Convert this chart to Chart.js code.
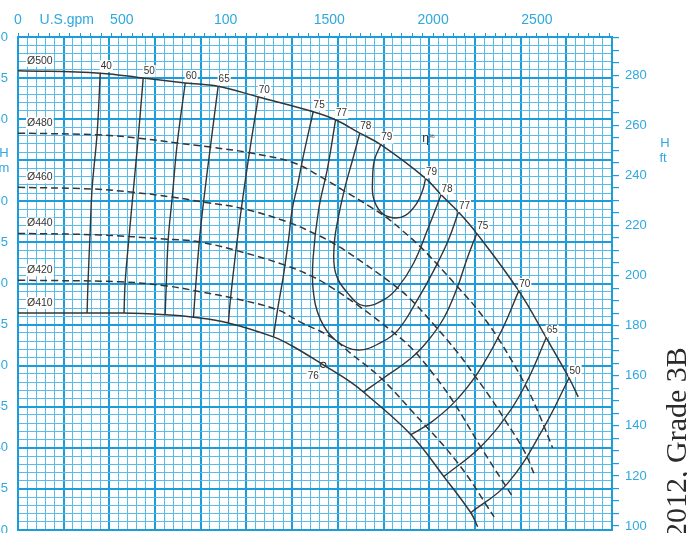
<!DOCTYPE html>
<html lang="en">
<head>
<meta charset="UTF-8">
<title>Pump curve</title>
<script src="https://cdn.jsdelivr.net/npm/chart.js"></script>
<style>
  html, body { margin: 0; padding: 0; background: #fff; overflow: hidden; }
  #wrap { position: relative; width: 687px; height: 533px; overflow: hidden; }
  #pump { position: absolute; left: -30px; top: 0; }
</style>
</head>
<body>
<div id="wrap"><canvas id="pump" width="720" height="560" style="width:720px;height:560px"></canvas></div>
<script>
// Q in m3/h (bottom scale, not in picture), H in m
const qMax = 650, hMin = 30, hMax = 90;
const gpmPerM3h = 4.40287, ftPerM = 3.28084;

// tick labels
const gpmTickValues = [0, 500, 1000, 1500, 2000, 2500];
const gpmTickLabels = ['0', '500', '100', '1500', '2000', '2500']; // "100" as printed
const mTicks = [30, 35, 40, 45, 50, 55, 60, 65, 70, 80, 85, 90]; // 75 hidden by the H/m title
const ftTicks = [100, 120, 140, 160, 180, 200, 220, 240, 260, 280];

// impeller diameter curves [Q, H]
const d500 = [[0,85.9],[90,85.6],[137,85.0],[183,84.4],[219,84.0],[263,82.7],[323,80.9],[348,79.9],[374,78.3],[397,76.9],[446,72.8],[463,70.8],[482,68.7],[502,66.1],[548,59.1],[578,53.4],[603,48.5],[613,46.2]];
const d480 = [[0,78.3],[87,78.1],[131.5,77.7],[174,77.1],[210.5,76.6],[254,75.9],[301.5,74.7],[331,73.0],[355,71.4],[386,69.3],[406,67.8],[421,66.4],[441,64.4],[459,62.3],[481,59.6],[503,56.8],[525,53.4],[554,47.9],[569,44.4],[585,40.0]];
const d460 = [[0,71.7],[82,71.5],[126,71.1],[170,70.5],[203,69.9],[243,69.2],[295,67.5],[320,66.3],[345,64.9],[378,62.5],[415,59.5],[433,57.7],[455,55.0],[481,51.6],[499,48.9],[517,46.1],[534,43.2],[554,39.6],[564.5,36.9]];
const d440 = [[0,66.1],[90,65.9],[163,65.4],[196,65.1],[236,64.1],[290.5,62.3],[323,60.8],[342,59.6],[375,57.1],[408,54.3],[430,52.2],[455,48.9],[477,45.5],[507,40.0],[541.5,34.0]];
const d420 = [[0,60.4],[112,60.2],[163,59.7],[199.5,59.0],[236,58.2],[284,56.8],[309,55.3],[342,53.5],[364,51.5],[397,48.5],[430,44.6],[481,38.2],[521,31.6]];
const d410 = [[0,56.4],[116,56.4],[161,56.2],[192,55.9],[230,55.2],[279.5,53.5],[301.5,52.3],[334,50.1],[364,48.0],[378,46.8],[430,41.6],[466,36.5],[495.5,32.1],[503,30.4]];

// iso-efficiency lines [Q, H]
const e40 = [[90,85.6],[86.6,78.3],[81.1,71.6],[78.9,66.1],[76.7,60.4],[75.6,56.4]];
const e50 = [[137,85.0],[131.5,77.7],[126,71.1],[121.7,65.9],[117.3,60.2],[116,56.4]];
const e60 = [[183,84.4],[174.3,77.1],[168.8,70.5],[164.4,65.4],[162.2,59.7],[161,56.2]];
const e65 = [[219,84.0],[210.5,76.6],[203,69.9],[198.4,65.1],[194,59.0],[192,55.9]];
const e70 = [[263,82.7],[255.4,77.5],[248.8,72.6],[243.4,68.3],[237.9,63.5],[232.4,58.0],[230.2,55.2]];
const e75 = [[323,80.9],[312,75.4],[306,72.0],[300,69.0],[296,65.3],[290.5,61.0],[284,56.8],[279.5,53.5]];
const e77 = [[347.5,79.9],[339,74.2],[329,69.0],[323,63.2],[323,59.2],[331,55.6],[347.5,53.1],[372,51.9],[397,52.8],[415.5,54.3],[437,58.0],[455,61.6],[471,65.3],[482,68.7]];
const e78 = [[374,78.3],[366,75.0],[358.5,72.0],[351,68.3],[346,64.7],[347.5,61.3],[361,58.8],[378,57.3],[400,58.0],[415.5,59.5],[433,62.5],[448,66.5],[463,70.8]];
const e79 = [[397,76.9],[390,75.0],[388,72.6],[389,70.4],[397,68.7],[410,68.0],[424,68.3],[436,69.7],[443,71.4],[446,72.8]];
const e75r = [[502,66.1],[491,62.9],[481,59.6],[466,55.8],[449,53.1],[430,50.9],[400,48.5],[378,46.8]];
const e70r = [[548,59.1],[528,54.0],[503,49.1],[477,45.5],[452,43.1],[430,41.6]];
const e65r = [[578,53.4],[558,48.3],[539,44.6],[506,40.1],[466,36.5]];
const e50r = [[603,48.5],[575.5,42.5],[536,35.7],[495.5,32.1]];

// best point on the 410 curve
const bep410 = [[334, 50.1]];
const bep410Label = '76';

const diameters = [
  { name: 'Ø500', pts: d500, dashed: false },
  { name: 'Ø480', pts: d480, dashed: true },
  { name: 'Ø460', pts: d460, dashed: true },
  { name: 'Ø440', pts: d440, dashed: true },
  { name: 'Ø420', pts: d420, dashed: true },
  { name: 'Ø410', pts: d410, dashed: false }
];
const effLines = [
  { eta: '40', pts: e40 }, { eta: '50', pts: e50 }, { eta: '60', pts: e60 },
  { eta: '65', pts: e65 }, { eta: '70', pts: e70 }, { eta: '75', pts: e75 },
  { eta: '77', pts: e77, both: true }, { eta: '78', pts: e78, both: true },
  { eta: '79', pts: e79, both: true },
  { eta: '75', pts: e75r }, { eta: '70', pts: e70r }, { eta: '65', pts: e65r },
  { eta: '50', pts: e50r }
];

const gridMajor = '#1c9cd8';
const gridMinor = '#58bce9';
const axisText = '#2ea8df';
const ink = '#353535';
const sans = '"Liberation Sans", Arial, sans-serif';

Chart.defaults.font.family = sans;

const toXY = pts => pts.map(p => ({ x: p[0], y: p[1] }));

const datasets = [];
diameters.forEach(d => datasets.push({
  data: toXY(d.pts), borderColor: ink, borderWidth: d.dashed ? 1.5 : 1.5,
  borderDash: d.dashed ? [7, 4] : [], pointRadius: 0, tension: 0.4, fill: false
}));
effLines.forEach(e => datasets.push({
  data: toXY(e.pts), borderColor: ink, borderWidth: 1.4,
  pointRadius: 0, tension: 0.4, fill: false
}));
datasets.push({
  data: toXY(bep410), showLine: false, pointRadius: 2.6, pointStyle: 'circle',
  pointBackgroundColor: '#fff', pointBorderColor: ink, pointBorderWidth: 1.1
});

const gridColor = c => (c.tick && c.tick.value % 5 === 0) ? gridMajor : gridMinor;
const gridColorQ = c => (c.tick && c.tick.value % 50 === 0) ? gridMajor : gridMinor;
const gridWidth = c => (c.tick && c.tick.value % 5 === 0) ? 2 : 1;
const gridWidthQ = c => (c.tick && c.tick.value % 50 === 0) ? 2 : 1;

const annot = {
  id: 'annot',
  afterDatasetsDraw(chart) {
    const { ctx, chartArea: a, scales } = chart;
    const sx = scales.x, sy = scales.y;
    const px = p => [sx.getPixelForValue(p[0]), sy.getPixelForValue(p[1])];
    ctx.save();
    ctx.textBaseline = 'middle';

    function tag(text, cx, cy, align) {
      const w = ctx.measureText(text).width;
      const left = align === 'left' ? cx : cx - w / 2;
      ctx.fillStyle = '#fff';
      ctx.fillRect(left - 1, cy - 6, w + 2, 12);
      ctx.fillStyle = '#333';
      ctx.textAlign = 'left';
      ctx.fillText(text, left, cy);
    }

    ctx.font = '10.5px ' + sans;
    diameters.forEach(d => {
      const p = px(d.pts[0]);
      tag(d.name, a.left + 9, p[1] - 10, 'left');
    });
    ctx.font = '10px ' + sans;
    effLines.forEach(e => {
      const p = px(e.pts[0]);
      tag(e.eta, p[0] + 6, p[1] - 7);
      if (e.both) {
        const q = px(e.pts[e.pts.length - 1]);
        tag(e.eta, q[0] + 6, q[1] - 6);
      }
    });
    const b = px(bep410[0]);
    tag(bep410Label, b[0] - 10, b[1] + 11);

    // eta % note
    const n = px([449, 77.7]);
    ctx.fillStyle = '#333';
    ctx.font = '12px ' + sans;
    ctx.textAlign = 'left';
    ctx.fillText('η', n[0] - 6, n[1] + 1);
    ctx.font = '6px ' + sans;
    ctx.fillText('%', n[0] + 1, n[1] - 2);
    ctx.restore();
  },
  afterDraw(chart) {
    const { ctx, chartArea: a, scales } = chart;
    ctx.save();
    ctx.fillStyle = axisText;
    ctx.textAlign = 'center';
    ctx.textBaseline = 'middle';
    ctx.font = '14px ' + sans;
    ctx.fillText('U.S.gpm', scales.x2.getPixelForValue(235), 20);
    ctx.font = '13px ' + sans;
    ctx.fillText('H', a.left - 14, a.top + 116);
    ctx.fillText('m', a.left - 14, a.top + 131);
    ctx.fillText('H', a.right + 53, a.top + 106);
    ctx.fillText('ft', a.right + 51, a.top + 121);

    ctx.translate(a.right + 74, a.bottom + 8);
    ctx.rotate(-Math.PI / 2);
    ctx.fillStyle = '#2a2a2a';
    ctx.textAlign = 'left';
    ctx.textBaseline = 'alphabetic';
    ctx.font = '30px "Liberation Serif", "Times New Roman", serif';
    ctx.fillText('2012, Grade 3B', 0, 0);
    ctx.restore();
  }
};

new Chart(document.getElementById('pump'), {
  type: 'line',
  data: { datasets },
  options: {
    responsive: false,
    animation: false,
    layout: { padding: 0 },
    plugins: { legend: { display: false }, tooltip: { enabled: false } },
    scales: {
      x: {
        type: 'linear', position: 'bottom', min: 0, max: qMax,
        ticks: { display: false, stepSize: 10, autoSkip: false, includeBounds: false },
        grid: { color: gridColorQ, lineWidth: gridWidthQ, drawTicks: false },
        border: { color: gridMajor, width: 2 },
        afterFit: s => { s.height = 30; }
      },
      x2: {
        type: 'linear', position: 'top', min: 0, max: qMax * gpmPerM3h,
        ticks: {
          stepSize: 50, autoSkip: false, includeBounds: false, maxRotation: 0, minRotation: 0,
          padding: 4, color: axisText, font: { size: 14 },
          callback: v => {
            const i = gpmTickValues.indexOf(v);
            return i >= 0 ? gpmTickLabels[i] : '';
          }
        },
        grid: { drawOnChartArea: false, tickLength: 4, color: gridMajor, lineWidth: 1 },
        border: { color: gridMajor, width: 2 },
        afterFit: s => { s.height = 37; }
      },
      y: {
        type: 'linear', position: 'left', min: hMin, max: hMax,
        ticks: {
          stepSize: 1, autoSkip: false, includeBounds: false, padding: 10,
          color: axisText, font: { size: 13 },
          callback: v => mTicks.includes(v) ? String(v) : ''
        },
        grid: { color: gridColor, lineWidth: gridWidth, drawTicks: false },
        border: { color: gridMajor, width: 2 },
        afterFit: s => { s.width = 48; }
      },
      y2: {
        type: 'linear', position: 'right', min: hMin * ftPerM, max: hMax * ftPerM,
        ticks: {
          stepSize: 5, autoSkip: false, includeBounds: false, padding: 6,
          color: axisText, font: { size: 13 },
          callback: v => ftTicks.includes(v) ? String(v) : ''
        },
        grid: { drawOnChartArea: false, tickLength: 7, color: gridMajor, lineWidth: 1.2 },
        border: { color: gridMajor, width: 2 },
        afterFit: s => { s.width = 78; }
      }
    }
  },
  plugins: [annot]
});
</script>
</body>
</html>
